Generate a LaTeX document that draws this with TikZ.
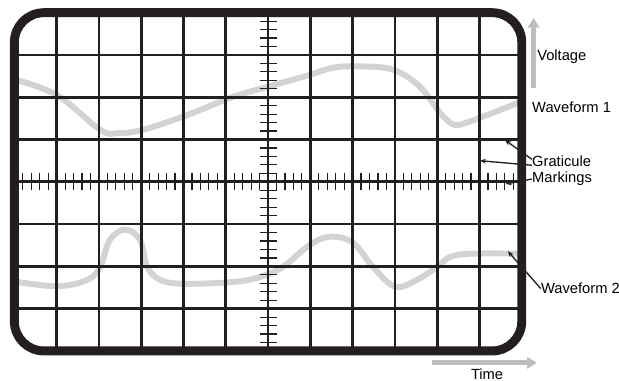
\documentclass[tikz,border=0pt]{standalone}
\usepackage{fontspec}
\setmainfont{Liberation Sans}
\usetikzlibrary{arrows.meta}
\definecolor{ink}{HTML}{231F20}
\definecolor{trace}{HTML}{D1D3D4}
\definecolor{axisgray}{HTML}{BCBEC0}

\begin{document}
\begin{tikzpicture}[
  lbl/.style={inner sep=0pt, anchor=base west, font=\fontsize{9.9}{12}\selectfont},
  gridln/.style={ink, line width=1.8pt},
  tickln/.style={ink, line width=0.8pt},
  wave/.style={trace, line width=4pt},
  ptr/.style={-{Stealth[length=4pt,width=3.2pt]}, ink, line width=0.9pt},
  bigarr/.style={-{Triangle[length=6.7pt,width=7.6pt]}, axisgray, line width=3.3pt},
  bezel/.style={ink, line width=6pt, rounded corners=0.7cm}
]
\useasboundingbox (-6.34,-4.70) rectangle (8.30,4.30);
\begin{scope}
  \clip[rounded corners=0.7cm] (-6,-4) rectangle (6,4);
  \draw[wave] plot[smooth, tension=0.6] coordinates {(-6.1,2.45) (-5.01,2.06) (-3.97,1.23)
    (-3.55,1.15) (-2.96,1.23) (-1.91,1.58) (-0.83,2.01) (0,2.25) (0.99,2.53) (1.54,2.70)
    (2.17,2.73) (2.96,2.65) (3.59,2.25) (4.07,1.63) (4.40,1.35) (4.75,1.42) (5.18,1.58) (6.1,1.94)};
  \draw[wave] plot[smooth, tension=0.6] coordinates {(-6.1,-2.34) (-5.01,-2.47) (-4.28,-2.32)
    (-3.97,-2.01) (-3.74,-1.37) (-3.38,-1.13) (-3.03,-1.37) (-2.86,-2.01) (-2.55,-2.32)
    (-2.01,-2.41) (-0.83,-2.37) (-0.19,-2.25) (0.35,-2.01) (0.99,-1.49) (1.47,-1.30)
    (2.01,-1.44) (2.48,-2.01) (3.00,-2.48) (3.52,-2.32) (4.00,-2.01) (4.30,-1.78)
    (4.80,-1.70) (6.1,-1.70)};
  \draw[gridln] (-6,-4) grid (6,4);
  \foreach \t in {-29,...,29}
    \draw[tickln] (\t/5,-0.2) -- (\t/5,0.2);
  \foreach \t in {-19,...,19}
    \draw[tickln] (-0.2,\t/5) -- (0.2,\t/5);
\end{scope}

\coordinate (vbase) at (6.28,2.22);
\coordinate (vtip) at (6.28,3.88);
\coordinate (tbase) at (3.88,-4.28);
\coordinate (ttip) at (6.36,-4.28);
\coordinate (gline) at (5.60,0.99);
\coordinate (gvert) at (5.01,0.50);
\coordinate (mtick) at (5.62,-0.05);
\coordinate (w2end) at (5.67,-1.64);

\node[lbl] (volt) at (6.36,2.86) {Voltage};
\node[lbl] (wf1) at (6.24,1.65) {Waveform 1};
\node[lbl] (grat) at (6.24,0.355) {Graticule};
\node[lbl] (mark) at (6.24,-0.024) {Markings};
\node[lbl] (wf2) at (6.45,-2.65) {Waveform 2};
\node[lbl, anchor=base] (time) at (5.18,-4.68) {Time};

\draw[ptr] ([yshift=1.5pt]grat.west) -- (gline);
\draw[ptr] ([yshift=-2.5pt]grat.west) -- (gvert);
\draw[ptr] (mark.west) -- (mtick);
\draw[ptr] (wf2.west) -- (w2end);

\draw[bezel] (-6,-4) rectangle (6,4);

\draw[bigarr] (vbase) -- (vtip);
\draw[bigarr] (tbase) -- (ttip);
\end{tikzpicture}
\end{document}
